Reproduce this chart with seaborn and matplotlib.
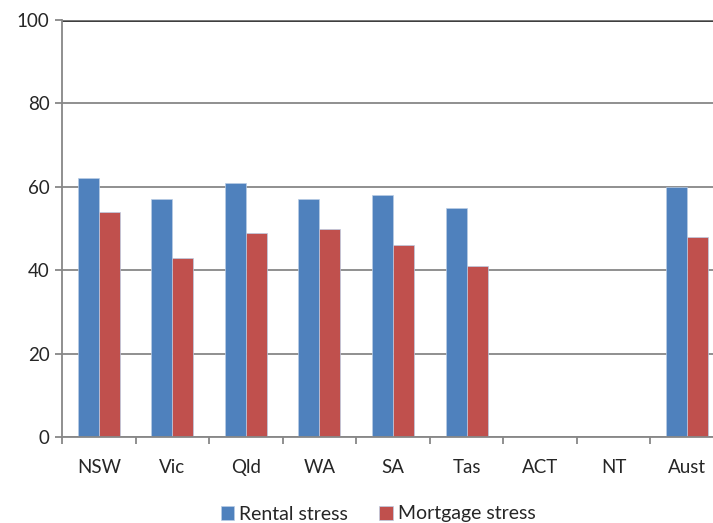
import matplotlib
matplotlib.use('Agg')
import matplotlib.pyplot as plt
import numpy as np
import pandas as pd
import seaborn as sns

# %% data
states = ['NSW', 'Vic', 'Qld', 'WA', 'SA', 'Tas', 'ACT', 'NT', 'Aust']
rental = [62, 57, 61, 57, 58, 55, np.nan, np.nan, 60]
mortgage = [54, 43, 49, 50, 46, 41, np.nan, np.nan, 48]
yticks = [0, 20, 40, 60, 80, 100]

df = pd.DataFrame({'state': states * 2,
                   'value': rental + mortgage,
                   'series': ['Rental stress'] * len(states) + ['Mortgage stress'] * len(states)})

# %% plot
sns.set_style('white')
plt.rcParams['font.family'] = ['Lato', 'DejaVu Sans']

fig = plt.figure(figsize=(7.13, 5.23), dpi=100)
ax = fig.add_axes([62 / 713, (523 - 437) / 523, (724 - 62) / 713, (437 - 20) / 523])

sns.barplot(data=df, x='state', y='value', hue='series', order=states,
            palette=['#4F81BD', '#C0504D'], saturation=1, width=0.57, gap=0,
            edgecolor='#b9cde5', linewidth=0.5, ax=ax, errorbar=None)

ax.set_ylim(0, 100)
ax.set_xlim(-0.5, len(states) - 0.5)
ax.set_yticks(yticks)
ax.grid(axis='y', color='#878787', linewidth=1.3)
ax.set_axisbelow(True)
ax.axhline(100, color='black', linewidth=1.8, zorder=0.5)

for side in ['top', 'right']:
    ax.spines[side].set_visible(False)
for side in ['left', 'bottom']:
    ax.spines[side].set_color('#878787')
    ax.spines[side].set_linewidth(1.3)

ax.tick_params(axis='y', which='major', direction='out', length=5, width=1.3,
               color='#878787', left=True, labelsize=13.5, pad=4)
ax.set_xticks(np.arange(-0.5, len(states), 1), minor=True)
ax.tick_params(axis='x', which='minor', direction='out', length=5, width=1.3,
               color='#878787', bottom=True)
ax.tick_params(axis='x', which='major', length=0, labelsize=13.5, pad=16)
ax.set_xlabel('')
ax.set_ylabel('')

ax.legend(loc='center', bbox_to_anchor=(378 / 713, (523 - 514) / 523),
          bbox_transform=fig.transFigure, ncol=2, frameon=False,
          fontsize=14, handlelength=0.7, handleheight=0.75,
          handletextpad=0.25, columnspacing=1.6)

fig.savefig('out.png', dpi=100)
